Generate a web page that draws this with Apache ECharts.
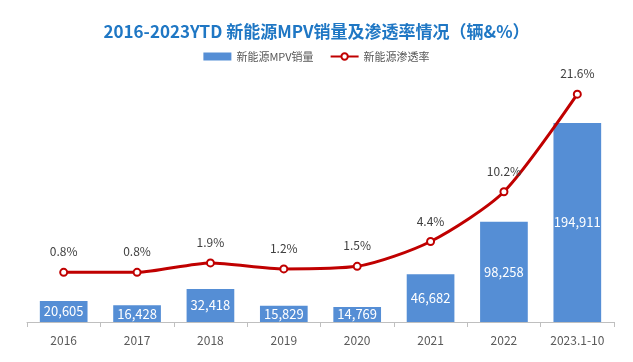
<!DOCTYPE html>
<html><head><meta charset="utf-8">
<script src="https://cdn.jsdelivr.net/npm/echarts@6/dist/echarts.min.js"></script>
<style>html,body{margin:0;padding:0;background:#fff}#c{width:633px;height:362px}</style>
</head><body><div id="c"></div>
<script>
const categories = ['2016','2017','2018','2019','2020','2021','2022','2023.1-10'];
const sales = [20605,16428,32418,15829,14769,46682,98258,194911];
const penetration = [0.8,0.8,1.9,1.2,1.5,4.4,10.2,21.6];
const titleText = '2016-2023YTD 新能源MPV销量及渗透率情况（辆&%）';
const seriesNames = ['新能源MPV销量','新能源渗透率'];

const font = '"Noto Sans CJK SC", "Noto Sans", sans-serif';
const chart = echarts.init(document.getElementById('c'));
chart.setOption({
  animation:false,
  title:{text:titleText,left:'center',top:18,textStyle:{color:'#1F77C4',fontSize:17,fontWeight:'bold',fontFamily:font}},
  legend:{top:46,left:'center',itemGap:16,itemWidth:28,itemHeight:8,textStyle:{color:'#595959',fontSize:11,fontFamily:font},
    data:[{name:seriesNames[0],icon:'rect'},{name:seriesNames[1]}]},
  grid:{left:27,right:19,top:65,bottom:40},
  xAxis:{type:'category',data:categories,boundaryGap:true,
    axisLine:{lineStyle:{color:'#BFBFBF',width:1}},
    axisTick:{show:true,alignWithLabel:false,length:5,lineStyle:{color:'#BFBFBF'}},
    axisLabel:{color:'#595959',fontSize:12,margin:12,fontFamily:font}},
  yAxis:[
    {type:'value',min:0,max:251700,show:false,splitLine:{show:false}},
    {type:'value',min:-5,max:25,show:false,splitLine:{show:false}}
  ],
  series:[
    {name:seriesNames[0],type:'bar',data:sales,barWidth:'65%',yAxisIndex:0,
      itemStyle:{color:'#558ED5'},
      label:{show:true,position:'inside',color:'#fff',fontSize:13,fontFamily:font,
        formatter:p=>p.value.toLocaleString('en-US')}},
    {name:seriesNames[1],type:'line',data:penetration,yAxisIndex:1,smooth:0.25,
      symbol:'emptyCircle',symbolSize:7,
      lineStyle:{color:'#C00000',width:3},
      itemStyle:{color:'#C00000',borderColor:'#C00000',borderWidth:1.5},
      label:{show:true,position:'top',distance:10,color:'#404040',fontSize:12,fontFamily:font,
        formatter:p=>p.value.toFixed(1)+'%'}}
  ]
});
</script></body></html>
